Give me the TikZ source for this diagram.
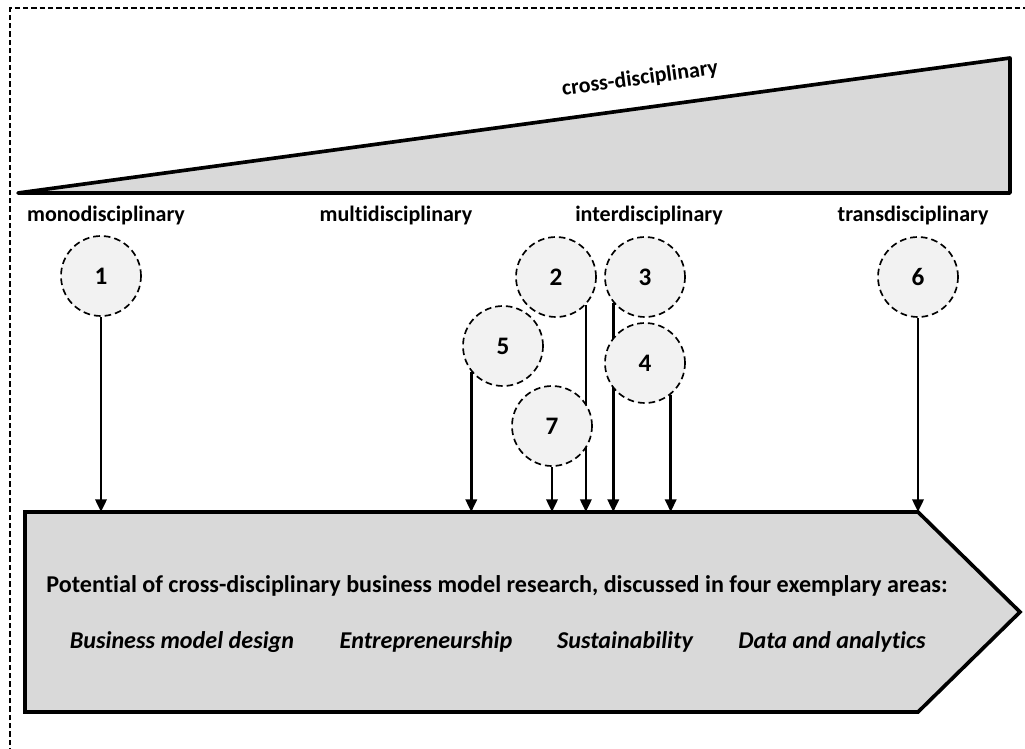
\documentclass[tikz,border=0pt]{standalone}
\usepackage{fontspec}
\setmainfont{Carlito}[Ligatures=NoCommon]
\usetikzlibrary{arrows.meta, positioning}

\definecolor{bargray}{HTML}{D9D9D9}
\definecolor{circlegray}{HTML}{F2F2F2}

\pgfdeclarelayer{bg}
\pgfdeclarelayer{links}
\pgfsetlayers{bg,links,main}

\tikzset{
    lbl/.style={font=\fontsize{18.8}{22}\selectfont\bfseries, inner sep=0pt, anchor=base},
    big/.style={font=\fontsize{20.6}{24}\selectfont\bfseries, inner sep=0pt, anchor=base},
    area/.style={font=\fontsize{20.6}{24}\selectfont\bfseries\itshape, inner sep=0pt, anchor=base},
    phase/.style={circle, draw, dashed, line width=0.5mm, dash pattern=on 2mm off 1.2mm,
        fill=circlegray, minimum size=24mm, inner sep=0pt,
        font=\fontsize{21.5}{25}\selectfont\bfseries},
    link/.style={-{Triangle[length=3.8mm, width=3.4mm]}, line width=0.75mm}
}

\begin{document}
\begin{tikzpicture}[x=0.3mm, y=-0.3mm]
    \useasboundingbox (0,0) rectangle (1025,749);
    % Frame
    \draw[line width=0.6mm, dash pattern=on 1.6mm off 0.9mm] (10,770) -- (10,8) -- (1045,8);

    % Cross-disciplinary wedge
    \draw[line width=1.1mm, fill=bargray, line join=round] (18,193) -- (1010,58) -- (1010,193) -- cycle;
    \node[lbl, anchor=center, rotate=7.75] (cross) at (640,79) {cross-disciplinary};

    % Levels
    \node[lbl] (mono) at (106,221) {monodisciplinary};
    \node[lbl] (multi) at (396,221) {multidisciplinary};
    \node[lbl] (inter) at (649,221) {interdisciplinary};
    \node[lbl] (trans) at (913,221) {transdisciplinary};

    % Studies
    \node[phase] (p1) at (101,276) {1};
    \node[phase] (p2) at (556,277) {2};
    \node[phase] (p3) at (645,277) {3};
    \node[phase] (p4) at (645,363) {4};
    \node[phase] (p5) at (503,346) {5};
    \node[phase] (p6) at (918,277) {6};
    \node[phase] (p7) at (552,426) {7};

    % Research potential
    \begin{pgfonlayer}{bg}
        \draw[line width=1.1mm, fill=bargray, line join=miter]
            (25,512) coordinate (top) -- (918,512) -- (1020,612) -- (918,712) -- (25,712) -- cycle;
    \end{pgfonlayer}
    \node[big] (potential) at (497,592) {Potential of cross-disciplinary business model research, discussed in four exemplary areas:};
    \node[area] (design) at (182,648) {Business model design};
    \node[area] (entre) at (426,648) {Entrepreneurship};
    \node[area] (sustain) at (625,648) {Sustainability};
    \node[area] (data) at (832,648) {Data and analytics};

    % Links
    \begin{pgfonlayer}{links}
        \draw[link] (p1) -- (p1 |- top);
        \draw[link] (p5.-141) -- (p5.-141 |- top);
        \draw[link] (p7) -- (p7 |- top);
        \draw[link] (p2.-43) -- (p2.-43 |- top);
        \draw[link] (p3.-141) -- (p3.-141 |- top);
        \draw[link] (p4.-51) -- (p4.-51 |- top);
        \draw[link] (p6) -- (p6 |- top);
    \end{pgfonlayer}
\end{tikzpicture}
\end{document}
